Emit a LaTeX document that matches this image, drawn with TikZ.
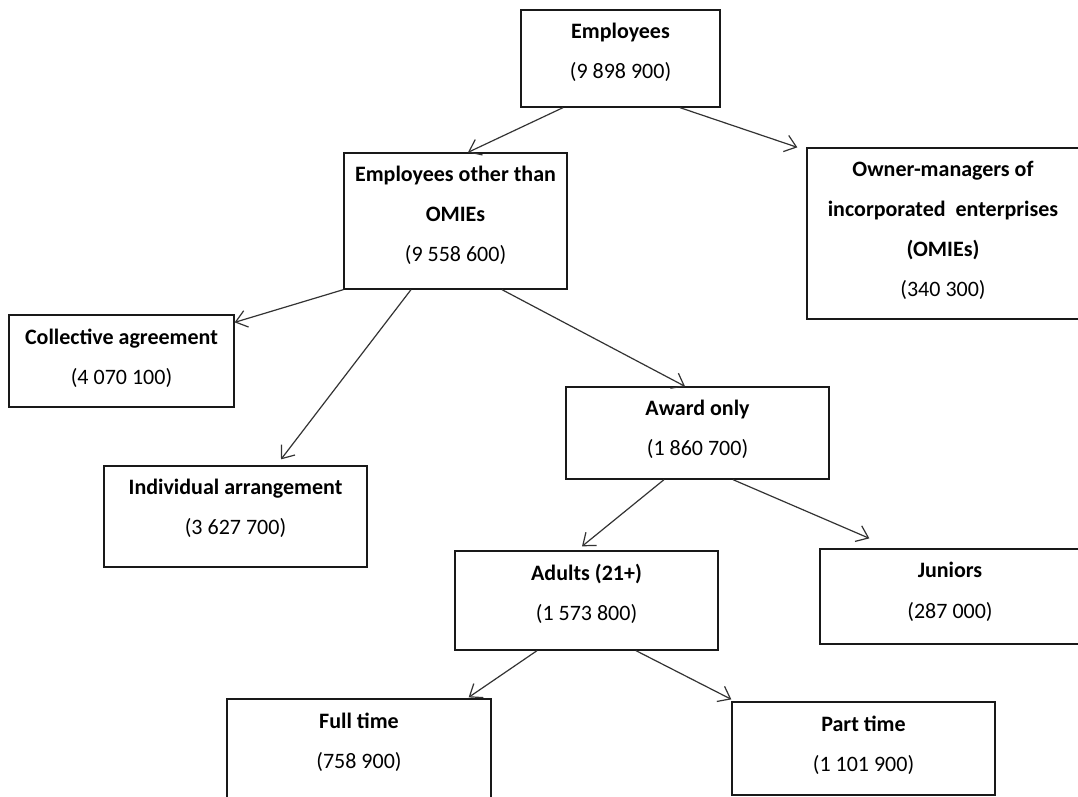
\documentclass[tikz,border=0pt]{standalone}
\usepackage{fontspec}
\setmainfont{Carlito}
\usepackage{tikz}
\usetikzlibrary{positioning,arrows.meta}
\tikzset{
  catbox/.style={draw=black!90, line width=1.3pt, rectangle, inner sep=0pt},
  cattext/.style={align=center, inner sep=0pt, font=\fontsize{22}{40}\selectfont},
  arrow/.style={-{Straight Barb[length=11pt,width=17pt]}, line width=1.2pt, draw=black!80}
}

\begin{document}
\begin{tikzpicture}[x=1pt, y=-1pt]
  \clip (0,0) rectangle (1078,796);
  \fill[white] (0,0) rectangle (1078,796);

  \node[catbox, minimum width=199pt, minimum height=97pt] (emp) at (620.5,58.5) {};
  \node[cattext, below=14pt of emp.north] (empT) {\textbf{Employees}\\(9 898 900)};
  \node[catbox, minimum width=223pt, minimum height=136pt] (other) at (455.5,221) {};
  \node[cattext, below=14pt of other.north] (otherT) {\textbf{Employees other than}\\\textbf{OMIEs}\\(9 558 600)};
  \node[catbox, minimum width=272pt, minimum height=171pt] (owner) at (943,233.5) {};
  \node[cattext, below=14pt of owner.north] (ownerT) {\textbf{Owner-managers of}\\\textbf{incorporated~ enterprises}\\\textbf{(OMIEs)}\\(340 300)};
  \node[catbox, minimum width=225pt, minimum height=92pt] (coll) at (121.5,361) {};
  \node[cattext, below=14pt of coll.north] (collT) {\textbf{Collective agreement}\\(4 070 100)};
  \node[catbox, minimum width=263pt, minimum height=101pt] (indiv) at (235.5,516.5) {};
  \node[cattext, below=14pt of indiv.north] (indivT) {\textbf{Individual arrangement}\\(3 627 700)};
  \node[catbox, minimum width=263pt, minimum height=92pt] (award) at (697.5,433) {};
  \node[cattext, below=14pt of award.north] (awardT) {\textbf{Award only}\\(1 860 700)};
  \node[catbox, minimum width=263pt, minimum height=99pt] (adults) at (586.5,600.5) {};
  \node[cattext, below=14pt of adults.north] (adultsT) {\textbf{Adults (21+)}\\(1 573 800)};
  \node[catbox, minimum width=260pt, minimum height=95pt] (juniors) at (950,596.5) {};
  \node[cattext, below=14pt of juniors.north] (juniorsT) {\textbf{Juniors}\\(287 000)};
  \node[catbox, minimum width=264pt, minimum height=101pt] (full) at (359,749.5) {};
  \node[cattext, below=14pt of full.north] (fullT) {\textbf{Full time}\\(758 900)};
  \node[catbox, minimum width=263pt, minimum height=93pt] (part) at (863.5,748.5) {};
  \node[cattext, below=14pt of part.north] (partT) {\textbf{Part time}\\(1 101 900)};

  \draw[arrow] ([xshift=-57.5pt]emp.south) -- ([xshift=12.5pt]other.north);
  \draw[arrow] ([xshift=59.5pt]emp.south) -- ([xshift=-9pt]owner.north west);
  \draw[arrow] (other.south west) -- ([yshift=-8pt]coll.north east);
  \draw[arrow] ([xshift=-44.5pt]other.south) -- ([xshift=45.5pt,yshift=6pt]indiv.north);
  \draw[arrow] ([xshift=46.5pt]other.south) -- ([xshift=-12.5pt]award.north);
  \draw[arrow] ([xshift=-33.5pt]award.south) -- ([xshift=-4.5pt,yshift=4pt]adults.north);
  \draw[arrow] ([xshift=35.5pt]award.south) -- ([xshift=50pt,yshift=10pt]juniors.north west);
  \draw[arrow] ([xshift=-49.5pt]adults.south) -- ([xshift=-23pt,yshift=1pt]full.north east);
  \draw[arrow] ([xshift=49.5pt]adults.south) -- ([yshift=2pt]part.north west);
\end{tikzpicture}
\end{document}
